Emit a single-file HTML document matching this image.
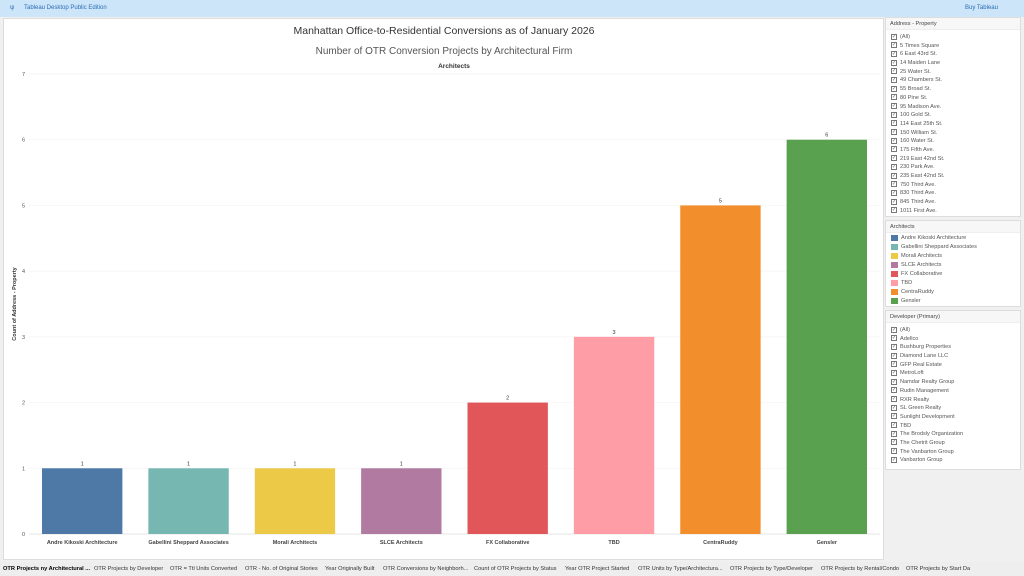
<!DOCTYPE html>
<html><head><meta charset="utf-8"><style>
*{box-sizing:border-box;margin:0;padding:0}
body{width:1024px;height:576px;overflow:hidden;background:#f0f0f0;font-family:"Liberation Sans",sans-serif;position:relative}
.top{position:absolute;left:0;top:0;width:1024px;height:17px;background:#cde5f9;font-size:6px;color:#2a6db5}
.top span{position:absolute;top:5px}
.main{position:absolute;left:3px;top:18px;width:881px;height:542px;background:#fff;border:1px solid #ddd}
.panel{position:absolute;left:885px;width:136px;background:#fff;border:1px solid #ddd;font-size:5.6px;color:#555;overflow:hidden}
.panel .h{height:12px;line-height:12px;padding-left:4px;background:#f7f7f7;border-bottom:1px solid #eee;color:#444}
.panel .r{height:8.7px;line-height:8.7px;padding-left:5px;white-space:nowrap}
#leg .r{height:9px;line-height:9px}
.cb{display:inline-block;width:6px;height:6px;border:1px solid #777;vertical-align:middle;margin-right:3px;font-size:5px;line-height:5px;text-align:center}
.sw{display:inline-block;width:7px;height:6px;vertical-align:middle;margin-right:3px}
.tabs{position:absolute;left:0;top:562px;width:1024px;height:14px;background:#eee;font-size:5.7px;color:#333}
.tabs span{position:absolute;top:4px;white-space:nowrap}
</style></head><body>
<div class="top"><span style="left:10px">ψ</span><span style="left:24px">Tableau Desktop Public Edition</span><span style="left:965px">Buy Tableau</span></div>
<div class="main">
<svg id="chart" width="881" height="542" style="position:absolute;left:0;top:0" font-family="Liberation Sans, sans-serif">
<text x="440" y="15" text-anchor="middle" font-size="10.5" fill="#333">Manhattan Office-to-Residential Conversions as of January 2026</text>
<text x="440" y="35" text-anchor="middle" font-size="10" fill="#555">Number of OTR Conversion Projects by Architectural Firm</text>
<text x="450" y="49" text-anchor="middle" font-size="6.5" font-weight="bold" fill="#333">Architects</text>
<text transform="translate(12,285) rotate(-90)" text-anchor="middle" font-size="5.5" font-weight="bold" fill="#333">Count of Address - Property</text>
<g id="g"></g>
</svg>
</div>
<div class="panel" style="top:17px;height:200px"><div class="h">Address - Property</div><div id="addr" style="padding-top:3px"></div></div>
<div class="panel" style="top:220px;height:87px"><div class="h">Architects</div><div id="leg" style="padding-top:1px"></div></div>
<div class="panel" style="top:310px;height:160px"><div class="h">Developer (Primary)</div><div id="dev" style="padding-top:3px"></div></div>
<div class="tabs" id="tabs"></div>
<script>
const categories=["Andre Kikoski Architecture","Gabellini Sheppard Associates","Morali Architects","SLCE Architects","FX Collaborative","TBD","CentraRuddy","Gensler"];
const values=[1,1,1,1,2,3,5,6];
const colors=["#4e79a7","#76b7b2","#edc948","#b07aa1","#e15759","#ff9da7","#f28e2b","#59a14f"];
const yTicks=[0,1,2,3,4,5,6,7];
const addresses=["(All)","5 Times Square","6 East 43rd St.","14 Maiden Lane","25 Water St.","49 Chambers St.","55 Broad St.","80 Pine St.","95 Madison Ave.","100 Gold St.","114 East 25th St.","150 William St.","160 Water St.","175 Fifth Ave.","219 East 42nd St.","230 Park Ave.","235 East 42nd St.","750 Third Ave.","830 Third Ave.","845 Third Ave.","1011 First Ave."];
const developers=["(All)","Adellco","Bushburg Properties","Diamond Lane LLC","GFP Real Estate","MetroLoft","Namdar Realty Group","Rudin Management","RXR Realty","SL Green Realty","Sunlight Development","TBD","The Brodsly Organization","The Chetrit Group","The Vanbarton Group","Vanbarton Group"];
const tabs=["OTR  Projects ny Architectural ...","OTR Projects by Developer","OTR = Ttl Units Converted","OTR - No. of Original Stories","Year Originally Built","OTR Conversions by Neighborh...","Count of OTR Projects by Status","Year OTR Project Started","OTR Units by Type/Architectura...","OTR Projects by Type/Developer","OTR Projects by Rental/Condo","OTR Projects by Start Da"];
const NS="http://www.w3.org/2000/svg";
const g=document.getElementById('g');
const y0=515,y1=55,yMax=7,left=25,right=876;
const y=v=>y0-(y0-y1)*v/yMax;
const band=(right-left)/categories.length;
const x=i=>left+band*i;
function mk(t,a){const e=document.createElementNS(NS,t);for(const k in a)e.setAttribute(k,a[k]);g.appendChild(e);return e;}
yTicks.forEach(t=>{
 const l=mk('line',{x1:left,x2:right,y1:y(t),y2:y(t),stroke:t===0?'#ddd':'#f3f3f3','stroke-width':0.7});
 
 
 const tx=mk('text',{x:21,y:y(t)+2,'text-anchor':'end','font-size':5.5,fill:'#555'});tx.textContent=t;
 
 
});
categories.forEach((c,i)=>{
 const bx=x(i)+13,bw=band-26;
 const r=mk('rect',{x:bx,y:y(values[i]),width:bw,height:y(0)-y(values[i]),fill:colors[i]});
 
 
 const v=mk('text',{x:bx+bw/2,y:y(values[i])-3,'text-anchor':'middle','font-size':5.5,fill:'#333'});v.textContent=values[i];
 
 
 const t=mk('text',{x:bx+bw/2,y:525,'text-anchor':'middle','font-size':5.5,'font-weight':'bold',fill:'#444'});t.textContent=c;
 
 
});
function fill(id,arr,fn){const p=document.getElementById(id);arr.forEach((a,i)=>{const d=document.createElement('div');d.className='r';d.innerHTML=fn(a,i);
 
 
 p.appendChild(d);});}
fill('addr',addresses,a=>'<span class="cb">✓</span>'+a);
fill('dev',developers,a=>'<span class="cb">✓</span>'+a);
fill('leg',categories,(a,i)=>'<span class="sw" style="background:'+colors[i]+'"></span>'+a);
const tp=[3,94,170,245,325,383,474,565,638,730,821,906];
const tb=document.getElementById('tabs');
tabs.forEach((t,i)=>{const s=document.createElement('span');s.style.left=tp[i]+'px';s.textContent=t;if(i===0){s.style.fontWeight='bold';s.style.color='#000';}
 
 
 tb.appendChild(s);});
</script>
</body></html>
